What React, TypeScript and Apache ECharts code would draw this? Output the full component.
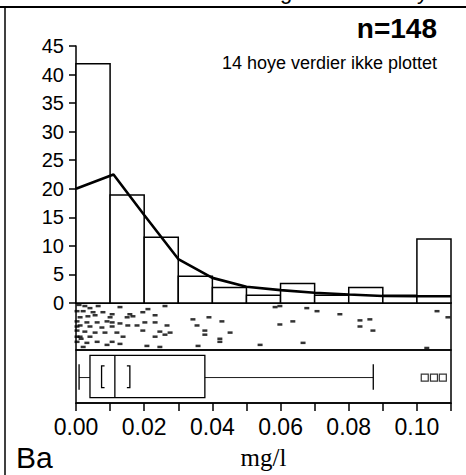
import React, { useEffect, useRef } from "react";
import * as echarts from "echarts";

// Histogram (percent of samples per 0.01 mg/l bin)
const binStarts = [0, 0.01, 0.02, 0.03, 0.04, 0.05, 0.06, 0.07, 0.08, 0.09, 0.1];
const binWidth = 0.01;
const binPercent = [41.9, 18.9, 11.5, 4.7, 2.7, 1.35, 3.4, 1.35, 2.7, 1.35, 11.2];

// Density curve
const curveX = [0, 0.011, 0.02, 0.03, 0.04, 0.05, 0.06, 0.07, 0.08, 0.09, 0.1, 0.11];
const curveY = [20, 22.5, 15.4, 7.7, 4.4, 2.85, 2.25, 1.8, 1.5, 1.22, 1.18, 1.18];

// One-dimensional scatter (value, vertical jitter 0..1)
const stripX = [
  0.0026, 0.0041, 0.0065, 0.0129, 0.0211, 0.0196, 0.0261, 0.0021, 0.005, 0.0079,
  0.0106, 0.0158, 0.0167, 0.0232, 0.01, 0.0012, 0.0035, 0.0056, 0.015, 0.0003,
  0.0032, 0.0062, 0.0091, 0.0106, 0.0129, 0.0152, 0.0179, 0.0202, 0.0232, 0.0267,
  0.0343, 0.039, 0.0428, 0.0355, 0.0012, 0.0041, 0.0076, 0.0106, 0.0003, 0.0026,
  0.0056, 0.0085, 0.012, 0.0196, 0.0246, 0.0276, 0.0261, 0.0378, 0.0378, 0.0452,
  0.0012, 0.0041, 0.0138, 0.0232, 0.0422, 0.0422, 0.0003, 0.0032, 0.0062, 0.0106,
  0.0129, 0.0091, 0.0021, 0.0208, 0.0246, 0.0358, 0.054, 0.0584, 0.0598, 0.0677,
  0.0707, 0.0774, 0.1059, 0.0598, 0.0636, 0.0833, 0.0862, 0.0833, 0.0871, 0.0666,
  0.1029, 0.1091, 0.0003, 0.0003, 0.0003, 0.0009, 0.0015
];
const stripJitter = [
  0.935, 0.891, 0.935, 0.913, 0.87, 0.804, 0.935, 0.826, 0.804, 0.804,
  0.761, 0.761, 0.717, 0.739, 0.696, 0.696, 0.717, 0.739, 0.696, 0.609,
  0.587, 0.587, 0.609, 0.587, 0.565, 0.522, 0.522, 0.587, 0.587, 0.522,
  0.652, 0.696, 0.609, 0.522, 0.522, 0.5, 0.478, 0.5, 0.413, 0.391,
  0.37, 0.37, 0.37, 0.413, 0.391, 0.37, 0.326, 0.413, 0.326, 0.37,
  0.283, 0.283, 0.283, 0.283, 0.239, 0.174, 0.174, 0.152, 0.174, 0.174,
  0.13, 0.109, 0.065, 0.087, 0.065, 0.087, 0.109, 0.913, 0.935, 0.891,
  0.826, 0.761, 0.826, 0.543, 0.609, 0.63, 0.652, 0.5, 0.413, 0.152,
  0.043, 0.696, 0.826, 0.5, 0.283, 0.96, 0.239
];

// Box plot: [lower whisker, Q1, median, Q3, upper whisker]
const boxStats = [0.0009, 0.0041, 0.0114, 0.0378, 0.0872];
const notch = [0.0075, 0.0158];
const outliers = [0.1023, 0.105, 0.1076];

const xTicks = [0, 0.02, 0.04, 0.06, 0.08, 0.1];

const SANS = "'Liberation Sans', Arial, sans-serif";

export default function App() {
  const ref = useRef<HTMLDivElement>(null);
  useEffect(() => {
    if (!ref.current) return;
    const chart = echarts.init(ref.current, undefined, { renderer: "svg" });
    const L = 76;
    const W = 375;
    const histData = binStarts.map((s, i) => [s, s + binWidth, binPercent[i]]);
    const option: any = {
      animation: false,
      backgroundColor: "#fff",
      grid: [
        { left: L, width: W, top: 46, height: 257 },
        { left: L, width: W, top: 303, height: 47, show: true, borderColor: "#000", borderWidth: 1.5, backgroundColor: "transparent" },
        { left: L, width: W, top: 350, height: 53, show: true, borderColor: "#000", borderWidth: 1.5, backgroundColor: "transparent" },
      ],
      xAxis: [
        {
          gridIndex: 0, type: "value", min: 0, max: 0.11,
          axisLine: { show: true, lineStyle: { color: "#000", width: 1.5 } },
          axisTick: { show: false }, axisLabel: { show: false }, splitLine: { show: false },
        },
        {
          gridIndex: 1, type: "value", min: 0, max: 0.11, show: false,
        },
        {
          gridIndex: 2, type: "value", min: 0, max: 0.11, interval: 0.01,
          axisLine: { show: true, lineStyle: { color: "#000", width: 1.5 } },
          axisTick: { show: true, inside: false, length: 8, lineStyle: { color: "#000", width: 1.5 } },
          axisLabel: {
            margin: 12, color: "#000", fontSize: 23, fontFamily: SANS,
            formatter: (v: number) => {
              const hit = xTicks.find((t) => Math.abs(t - v) < 1e-6);
              return hit !== undefined ? hit.toFixed(2) : "";
            },
          },
          splitLine: { show: false },
          name: "mg/l", nameLocation: "middle", nameGap: 42,
          nameTextStyle: { fontFamily: "'Liberation Serif', 'Times New Roman', serif", fontSize: 25, color: "#000" },
        },
      ],
      yAxis: [
        {
          gridIndex: 0, type: "value", min: 0, max: 45, interval: 5,
          axisLine: { show: true, lineStyle: { color: "#000", width: 1.5 } },
          axisTick: { show: true, inside: false, length: 7, lineStyle: { color: "#000", width: 1.5 } },
          axisLabel: { margin: 12, color: "#000", fontSize: 20, fontFamily: SANS },
          splitLine: { show: false },
        },
        { gridIndex: 1, type: "value", min: 0, max: 1, show: false },
        { gridIndex: 2, type: "value", min: 0, max: 1, show: false },
      ],
      series: [
        {
          type: "custom", xAxisIndex: 0, yAxisIndex: 0, data: histData, z: 2,
          renderItem: (_p: any, api: any) => {
            const a = api.coord([api.value(0), api.value(2)]);
            const b = api.coord([api.value(1), 0]);
            return {
              type: "rect",
              shape: { x: a[0], y: a[1], width: b[0] - a[0], height: b[1] - a[1] },
              style: { fill: "#fff", stroke: "#000", lineWidth: 1.5 },
            };
          },
        },
        {
          type: "line", xAxisIndex: 0, yAxisIndex: 0, z: 3,
          data: curveX.map((x, i) => [x, curveY[i]]),
          showSymbol: false, symbol: "none",
          lineStyle: { color: "#000", width: 2.6 },
        },
        {
          type: "scatter", xAxisIndex: 1, yAxisIndex: 1,
          data: stripX.map((x, i) => [x, stripJitter[i]]),
          symbol: "rect", symbolSize: [5, 2.5],
          itemStyle: { color: "#000" },
        },
        {
          type: "custom", xAxisIndex: 2, yAxisIndex: 2, data: [boxStats],
          renderItem: (_p: any, api: any) => {
            const c = (x: number, y: number) => api.coord([x, y]);
            const [wl, q1, md, q3, wh] = [0, 1, 2, 3, 4].map((k) => api.value(k));
            const yTop = 0.9, yBot = 0.1, yMid = 0.48, capT = 0.73, capB = 0.25, nT = 0.7, nB = 0.29;
            const ln = (x1: number, y1: number, x2: number, y2: number, w = 1.3) => {
              const p = c(x1, y1), q = c(x2, y2);
              return { type: "line", shape: { x1: p[0], y1: p[1], x2: q[0], y2: q[1] }, style: { stroke: "#000", lineWidth: w } };
            };
            const tl = c(q1, yTop), br = c(q3, yBot);
            const arm = 3;
            const n0t = c(notch[0], nT), n0b = c(notch[0], nB), n1t = c(notch[1], nT), n1b = c(notch[1], nB);
            return {
              type: "group",
              children: [
                { type: "rect", shape: { x: tl[0], y: tl[1], width: br[0] - tl[0], height: br[1] - tl[1] }, style: { fill: "none", stroke: "#000", lineWidth: 1.3 } },
                ln(md, yTop, md, yBot, 1.3),
                ln(wl, yMid, q1, yMid, 0.9),
                ln(q3, yMid, wh, yMid, 0.9),
                ln(wl, capT, wl, capB, 1.3),
                ln(wh, capT, wh, capB, 1.3),
                { type: "polyline", shape: { points: [[n0t[0] + arm, n0t[1]], n0t, n0b, [n0b[0] + arm, n0b[1]]] }, style: { fill: "none", stroke: "#000", lineWidth: 1.3 } },
                { type: "polyline", shape: { points: [[n1t[0] - arm, n1t[1]], n1t, n1b, [n1b[0] - arm, n1b[1]]] }, style: { fill: "none", stroke: "#000", lineWidth: 1.3 } },
              ],
            };
          },
        },
        {
          type: "scatter", xAxisIndex: 2, yAxisIndex: 2,
          data: outliers.map((x) => [x, 0.48]),
          symbol: "rect", symbolSize: 7,
          itemStyle: { color: "#fff", borderColor: "#000", borderWidth: 1.2 },
        },
      ],
      graphic: [
        { type: "line", shape: { x1: 0, y1: 7, x2: 466, y2: 7 }, style: { stroke: "#000", lineWidth: 2 } },
        { type: "line", shape: { x1: 5, y1: 8, x2: 5, y2: 475 }, style: { stroke: "#000", lineWidth: 1.5 } },
        { type: "text", x: 280, y: -9, style: { text: "g", font: "22px " + SANS, fill: "#000", verticalAlign: "middle" } },
        { type: "text", x: 417, y: -9, style: { text: "y", font: "22px " + SANS, fill: "#000", verticalAlign: "middle" } },
        { type: "text", x: 437, y: 28, style: { text: "n=148", font: "bold 28px " + SANS, fill: "#000", align: "right", verticalAlign: "middle" } },
        { type: "text", x: 437, y: 63, style: { text: "14 hoye verdier ikke plottet", font: "18px " + SANS, fill: "#000", align: "right", verticalAlign: "middle" } },
        { type: "text", x: 16, y: 457, style: { text: "Ba", font: "30px " + SANS, fill: "#000", align: "left", verticalAlign: "middle" } },
      ],
    };
    chart.setOption(option);
    return () => chart.dispose();
  }, []);
  return <div ref={ref} style={{ width: 466, height: 475, position: "absolute", left: 0, top: 0 }} />;
}
